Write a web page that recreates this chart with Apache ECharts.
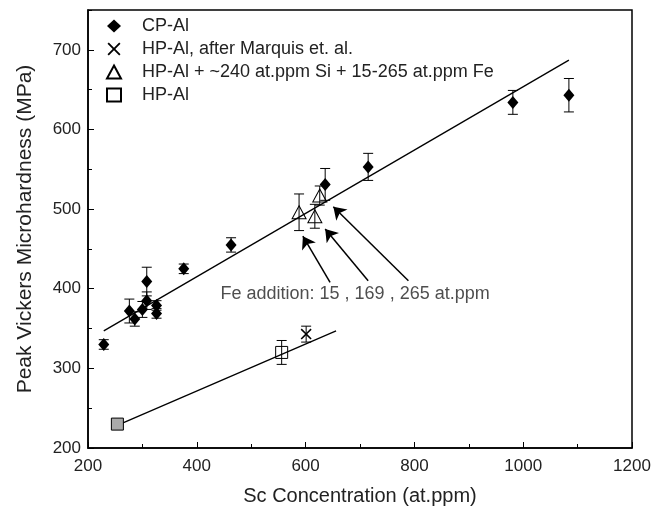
<!DOCTYPE html>
<html>
<head>
<meta charset="utf-8">
<script src="https://cdn.jsdelivr.net/npm/echarts/dist/echarts.min.js"></script>
<style>
html, body { margin: 0; padding: 0; background: #fff; }
#chart { width: 662px; height: 512px; }
</style>
</head>
<body>
<div id="chart"></div>
<script>
// CP-Al
const cpX   = [229, 276, 286, 300, 308, 308, 326, 326, 376, 463, 636, 715, 981, 1084];
const cpY   = [330, 372, 362, 374, 409, 385, 379, 369, 425, 455, 531, 553, 634, 643];
const cpErr = [6, 15, 9, 10, 18, 11, 6, 6, 6, 9, 20, 17, 15, 21];

// HP-Al, after Marquis
const mqX   = [601];
const mqY   = [343];
const mqErr = [10];

// HP-Al + Si + Fe
const trX   = [588, 617, 626];
const trY   = [496, 491, 517];
const trErr = [23, 15, 12];

// HP-Al
const sqX   = [254, 556];
const sqY   = [230, 320];
const sqErr = [4, 15];

// fitted lines
const fitCP = [[229, 347], [1084, 687]];
const fitHP = [[259, 230], [656, 347]];

// arrows: tail -> head
const arrows = [
    [[645, 408], [595, 466]],
    [[715, 410], [636, 475]],
    [[789, 410], [651, 503]]
];
const noteAt = [691, 393];
const noteText = 'Fe addition: 15 , 169 , 265 at.ppm';

const FONT = "'Liberation Sans', Arial, sans-serif";
const X_PATH = 'path://M0,1L1,0L5,4L9,0L10,1L6,5L10,9L9,10L5,6L1,10L0,9L4,5Z';

function pts(xs, ys) { return xs.map((x, i) => [x, ys[i]]); }

const errData = []
    .concat(cpX.map((x, i) => [x, cpY[i], cpErr[i]]))
    .concat(mqX.map((x, i) => [x, mqY[i], mqErr[i]]))
    .concat(trX.map((x, i) => [x, trY[i], trErr[i]]))
    .concat(sqX.map((x, i) => [x, sqY[i], sqErr[i]]));

function renderErr(params, api) {
    const x = api.value(0), y = api.value(1), e = api.value(2);
    const top = api.coord([x, y + e]);
    const bot = api.coord([x, y - e]);
    const w = 5;
    const st = { stroke: '#000', lineWidth: 1 };
    return {
        type: 'group',
        children: [
            { type: 'line', shape: { x1: top[0], y1: top[1], x2: bot[0], y2: bot[1] }, style: st },
            { type: 'line', shape: { x1: top[0] - w, y1: top[1], x2: top[0] + w, y2: top[1] }, style: st },
            { type: 'line', shape: { x1: bot[0] - w, y1: bot[1], x2: bot[0] + w, y2: bot[1] }, style: st }
        ]
    };
}

const chart = echarts.init(document.getElementById('chart'));

chart.setOption({
    animation: false,
    backgroundColor: '#fff',
    textStyle: { fontFamily: FONT },
    grid: { left: 88, right: 30, top: 10, bottom: 64, show: true, borderColor: '#000', borderWidth: 1.5 },
    legend: {
        orient: 'vertical',
        left: 106,
        top: 17,
        padding: 0,
        itemWidth: 14,
        itemHeight: 13,
        itemGap: 5,
        textStyle: { fontSize: 18, color: '#222', fontFamily: FONT, lineHeight: 15, padding: [0, 0, 0, 16] },
        data: ['CP-Al', 'HP-Al, after Marquis et. al.', 'HP-Al + ~240 at.ppm Si + 15-265 at.ppm Fe', 'HP-Al'],
        selectedMode: false
    },
    xAxis: {
        type: 'value',
        min: 200,
        max: 1200,
        interval: 200,
        name: 'Sc Concentration (at.ppm)',
        nameLocation: 'middle',
        nameGap: 38,
        nameTextStyle: { fontSize: 20, color: '#222', fontFamily: FONT },
        axisLine: { lineStyle: { color: '#000', width: 1.5 } },
        axisTick: { inside: true, length: 6, lineStyle: { color: '#000' } },
        minorTick: { show: true, splitNumber: 2, length: 4, lineStyle: { color: '#000' } },
        axisLabel: { fontSize: 17, color: '#222', margin: 10, fontFamily: FONT, formatter: v => String(v) },
        splitLine: { show: false }
    },
    yAxis: [{
        type: 'value',
        min: 200,
        max: 750,
        interval: 100,
        name: 'Peak Vickers Microhardness (MPa)',
        nameLocation: 'middle',
        nameGap: 52,
        nameTextStyle: { fontSize: 21, color: '#222', fontFamily: FONT },
        axisLine: { lineStyle: { color: '#000', width: 1.5 } },
        axisTick: { inside: true, length: 6, lineStyle: { color: '#000' } },
        axisLabel: { fontSize: 17, color: '#222', margin: 7, showMaxLabel: false, fontFamily: FONT, formatter: v => String(v) },
        splitLine: { show: false }
    }, {
        type: 'value',
        min: 200,
        max: 750,
        interval: 50,
        position: 'left',
        axisLine: { show: false },
        axisTick: { inside: true, length: 4, lineStyle: { color: '#000' } },
        axisLabel: { show: false },
        splitLine: { show: false }
    }],
    series: [
        {
            type: 'custom',
            name: 'err',
            renderItem: renderErr,
            encode: { x: 0, y: 1 },
            data: errData,
            silent: true,
            z: 1
        },
        {
            type: 'line', name: 'fitCP', data: fitCP, symbol: 'none', silent: true,
            lineStyle: { color: '#000', width: 1.3 }, z: 2
        },
        {
            type: 'line', name: 'fitHP', data: fitHP, symbol: 'none', silent: true,
            lineStyle: { color: '#000', width: 1.3 }, z: 2
        },
        {
            type: 'scatter', name: 'CP-Al', data: pts(cpX, cpY),
            symbol: 'diamond', symbolSize: [11, 13],
            itemStyle: { color: '#000', opacity: 1 }, z: 3
        },
        {
            type: 'scatter', name: 'HP-Al, after Marquis et. al.', data: pts(mqX, mqY),
            symbol: X_PATH, symbolSize: 11,
            itemStyle: { color: '#000', opacity: 1 }, z: 3
        },
        {
            type: 'scatter', name: 'HP-Al + ~240 at.ppm Si + 15-265 at.ppm Fe', data: pts(trX, trY),
            symbol: 'triangle', symbolSize: [14, 13],
            itemStyle: { color: 'rgba(255,255,255,0)', borderColor: '#000', borderWidth: 1, opacity: 1 }, z: 3
        },
        {
            type: 'scatter', name: 'HP-Al',
            data: pts(sqX, sqY).map((p, i) => i === 0 ? { value: p, itemStyle: { color: '#aaa' } } : p),
            symbol: 'rect', symbolSize: 12,
            itemStyle: { color: 'rgba(255,255,255,0)', borderColor: '#000', borderWidth: 1, opacity: 1 }, z: 3
        },
        {
            type: 'lines', name: 'arrows', coordinateSystem: 'cartesian2d',
            data: arrows.map(a => ({ coords: a })),
            symbol: ['none', 'arrow'], symbolSize: [0, 12],
            lineStyle: { color: '#000', width: 1.5, opacity: 1 },
            silent: true, z: 4
        },
        {
            type: 'scatter', name: 'note', data: [noteAt],
            symbolSize: 1, itemStyle: { color: 'rgba(0,0,0,0)' }, silent: true,
            label: { show: true, position: 'inside', formatter: noteText, fontSize: 18, color: '#222', fontFamily: FONT },
            z: 4
        }
    ]
});
</script>
</body>
</html>
